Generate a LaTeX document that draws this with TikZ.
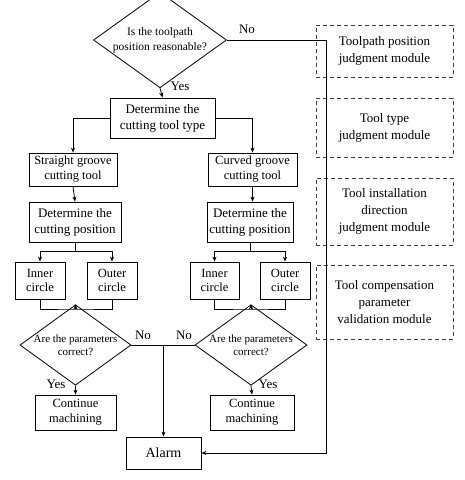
\documentclass[tikz,border=0pt]{standalone}
\usepackage{fontspec}
\setmainfont{Liberation Serif}
\usetikzlibrary{shapes.geometric,arrows.meta}

\tikzset{
  box/.style={draw, line width=0.8pt, inner sep=0pt, align=center, font=\fontsize{12.5}{15}\selectfont},
  ask/.style={draw, diamond, line width=0.8pt, inner sep=-6pt, align=center},
  module/.style={draw=black!75, dash pattern={on 4pt off 3pt}, line width=0.8pt, inner sep=0pt, align=center, minimum width=137pt, font=\fontsize{13}{17}\selectfont},
  tag/.style={inner sep=0.75pt, font=\fontsize{13}{15}\selectfont},
  arr/.style={-{Stealth[length=5pt,width=4pt]}, line width=0.8pt},
  wire/.style={line width=0.8pt}
}

\begin{document}
\begin{tikzpicture}[x=1pt,y=1pt,yscale=-1,xscale=1]
\useasboundingbox (0,0) rectangle (465,480);

%Shape: Diamond [id:top]
\node [ask, minimum width=133pt, minimum height=74pt, font=\fontsize{11.5}{15}\selectfont] (top) at (160,40) {Is the toolpath\\position reasonable?};
%Shape: Rectangle [id:tooltype]
\node [box, minimum width=105pt, minimum height=40pt, font=\fontsize{13}{16}\selectfont] (tooltype) at (162.5,118) {Determine the\\cutting tool type};

%Shape: Rectangle [id:straight]
\node [box, minimum width=88pt, minimum height=33pt] (straight) at (73,169.5) {Straight groove\\cutting tool};
%Shape: Rectangle [id:curved]
\node [box, minimum width=89pt, minimum height=33pt] (curved) at (252.5,169.5) {Curved groove\\cutting tool};

%Shape: Rectangle [id:posL]
\node [box, minimum width=92pt, minimum height=40pt, font=\fontsize{13}{16}\selectfont] (posL) at (75,222) {Determine the\\cutting position};
%Shape: Rectangle [id:posR]
\node [box, minimum width=86pt, minimum height=40pt, font=\fontsize{13}{16}\selectfont] (posR) at (250,222) {Determine the\\cutting position};

%Shape: Rectangle [id:innerL]
\node [box, minimum width=50pt, minimum height=37pt, font=\fontsize{12.5}{14.5}\selectfont] (innerL) at (40,280.5) {Inner\\circle};
%Shape: Rectangle [id:outerL]
\node [box, minimum width=50pt, minimum height=37pt, font=\fontsize{12.5}{14.5}\selectfont] (outerL) at (112,280.5) {Outer\\circle};
%Shape: Rectangle [id:innerR]
\node [box, minimum width=49pt, minimum height=37pt, font=\fontsize{12.5}{14.5}\selectfont] (innerR) at (214.5,280.5) {Inner\\circle};
%Shape: Rectangle [id:outerR]
\node [box, minimum width=50pt, minimum height=37pt, font=\fontsize{12.5}{14.5}\selectfont] (outerR) at (285,280.5) {Outer\\circle};

%Shape: Diamond [id:paramL]
\node [ask, minimum width=111pt, minimum height=60pt, font=\fontsize{11}{13}\selectfont] (paramL) at (75.5,345) {Are the parameters\\correct?};
%Shape: Diamond [id:paramR]
\node [ask, minimum width=112pt, minimum height=60pt, font=\fontsize{11}{13}\selectfont] (paramR) at (251,345) {Are the parameters\\correct?};

%Shape: Rectangle [id:contL]
\node [box, minimum width=81pt, minimum height=35pt] (contL) at (75.5,412.5) {Continue\\machining};
%Shape: Rectangle [id:contR]
\node [box, minimum width=84pt, minimum height=35pt] (contR) at (252,412.5) {Continue\\machining};
%Shape: Rectangle [id:alarm]
\node [box, minimum width=75pt, minimum height=32pt, font=\fontsize{14}{16}\selectfont] (alarm) at (163.5,453) {Alarm};

%Shape: Dashed Rectangles [id:modules]
\node [module, minimum height=52pt] (modPath) at (384.5,51) {Toolpath position\\judgment module};
\node [module, minimum height=59pt] (modType) at (384.5,127.5) {Tool type\\judgment module};
\node [module, minimum height=67pt] (modDir) at (384.5,211.5) {Tool installation\\direction\\judgment module};
\node [module, minimum height=74pt] (modComp) at (384.5,302) {Tool compensation\\parameter\\validation module};

%Coordinates for turns
\coordinate (noTurn) at (326,40);
\coordinate (mergeL) at (75.5,309);
\coordinate (mergeR) at (251,309);
\coordinate (noJoin) at (163.5,345);

%Straight Lines
\draw [arr] (top.south) -- (tooltype.north);
\draw [arr] (top.east) -- (noTurn) |- (alarm.east);
\draw [arr] (tooltype.west) -| (straight.north);
\draw [arr] (tooltype.east) -| (curved.north);
\draw [arr] (straight.south) -- (posL.north);
\draw [arr] (curved.south) -- (curved.south |- posR.north);
\draw [wire] (posL.south) -- ++(0,9) coordinate (splitL);
\draw [arr] (splitL) -| (innerL.north);
\draw [arr] (splitL) -| (outerL.north);
\draw [wire] (posR.south) -- ++(0,9) coordinate (splitR);
\draw [arr] (splitR) -| (innerR.north);
\draw [arr] (splitR) -| (outerR.north);
\draw [wire] (innerL.south) |- (mergeL) -| (outerL.south);
\draw [arr] (mergeL) -- (paramL.north);
\draw [wire] (innerR.south) |- (mergeR) -| (outerR.south);
\draw [arr] (mergeR) -- (paramR.north);
\draw [wire] (paramL.east) -- (paramR.west);
\draw [arr] (noJoin) -- (alarm.north);
\draw [arr] (paramL.south) -- (contL.north);
\draw [arr] (paramR.south) -- (contR.north);

% Text Node
\node [tag] (noTop) at (247,29) {No};
% Text Node
\node [tag] (yesTop) at (180,86) {Yes};
% Text Node
\node [tag] (noL) at (143,335) {No};
% Text Node
\node [tag] (noR) at (184,335) {No};
% Text Node
\node [tag] (yesL) at (56,384) {Yes};
% Text Node
\node [tag] (yesR) at (268,384) {Yes};

\end{tikzpicture}
\end{document}
